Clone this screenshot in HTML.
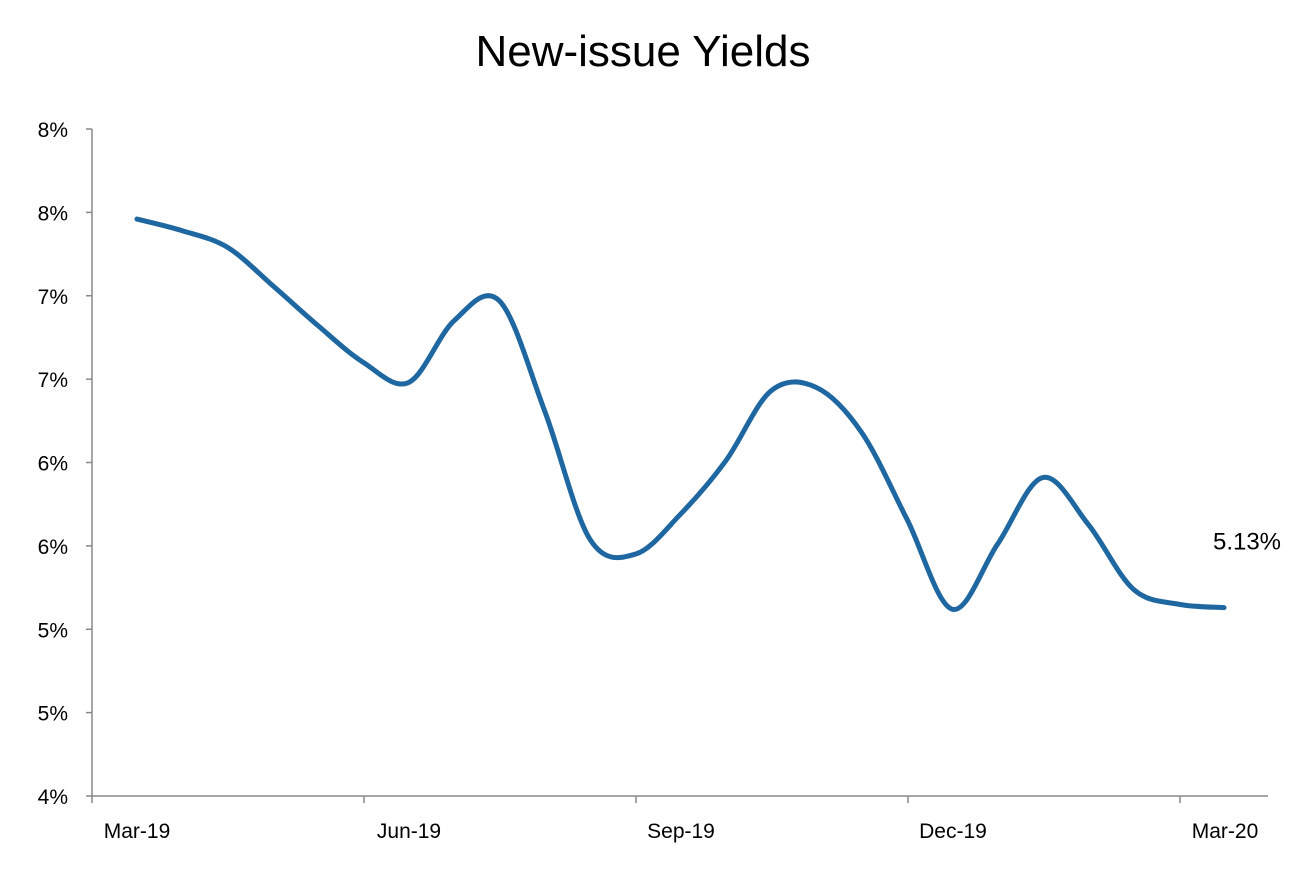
<!DOCTYPE html>
<html><head><meta charset="utf-8"><style>
html,body{margin:0;padding:0;background:#fff;}
svg{display:block;font-family:"Liberation Sans",sans-serif;}
</style></head><body>
<svg id="chart" width="1308" height="872">
<text x="643" y="66" text-anchor="middle" font-size="44" fill="#000">New-issue Yields</text>
<g id="axes"></g>
<path id="line" fill="none" stroke="#1f67a0" stroke-width="5" stroke-linecap="round"></path>
<text id="endLabel" font-size="24" fill="#000" text-anchor="middle"></text>
</svg>
<script>
const yTicks=[4,4.5,5,5.5,6,6.5,7,7.5,8];
const yTickLabels=["4%","5%","5%","6%","6%","7%","7%","8%","8%"];
const xLabels=["Mar-19","Jun-19","Sep-19","Dec-19","Mar-20"];
const values=[7.46,7.39,7.29,7.06,6.82,6.60,6.48,6.85,6.97,6.31,5.54,5.45,5.69,6.01,6.43,6.45,6.18,5.66,5.12,5.51,5.91,5.63,5.24,5.15,5.13];
const endLabel="5.13%";
const NS="http://www.w3.org/2000/svg";
const X0=92,X1=1268,Y0=796,Y1=129;
const yScale=v=>Y0-(v-4)/(8-4)*(Y0-Y1);
const qW=(1180-92)/4;
const xScale=i=>137+i*((1224-137)/(values.length-1));
const axes=document.getElementById('axes');
function mk(tag,attrs){const e=document.createElementNS(NS,tag);for(const k in attrs)e.setAttribute(k,attrs[k]);return e;}
let l=mk('line',{x1:X0,y1:Y1,x2:X0,y2:Y0,stroke:'#888','stroke-width':1.5});


axes.appendChild(l);
l=mk('line',{x1:X0,y1:Y0,x2:X1,y2:Y0,stroke:'#888','stroke-width':1.5});


axes.appendChild(l);
yTicks.forEach((v,i)=>{
  const y=yScale(v);
  const t=mk('line',{x1:X0-6,y1:y,x2:X0,y2:y,stroke:'#888','stroke-width':1.5});
  
  
  axes.appendChild(t);
  const tx=mk('text',{x:68,y:y+8,'text-anchor':'end','font-size':21,fill:'#000'});
  tx.textContent=yTickLabels[i];
  
  
  axes.appendChild(tx);
});
for(let i=0;i<=4;i++){
  const x=X0+i*qW;
  const t=mk('line',{x1:x,y1:Y0,x2:x,y2:Y0+7,stroke:'#888','stroke-width':1.5});
  
  
  axes.appendChild(t);
}
xLabels.forEach((s,i)=>{
  const tx=mk('text',{x:137+i*qW,y:838,'text-anchor':'middle','font-size':21,fill:'#000'});
  tx.textContent=s;
  
  
  axes.appendChild(tx);
});
const pts=values.map((v,i)=>[xScale(i),yScale(v)]);
let d='M'+pts[0][0]+','+pts[0][1];
for(let i=0;i<pts.length-1;i++){
  const p0=pts[Math.max(i-1,0)],p1=pts[i],p2=pts[i+1],p3=pts[Math.min(i+2,pts.length-1)];
  const c1=[p1[0]+(p2[0]-p0[0])/6,p1[1]+(p2[1]-p0[1])/6];
  const c2=[p2[0]-(p3[0]-p1[0])/6,p2[1]-(p3[1]-p1[1])/6];
  d+=` C${c1[0]},${c1[1]} ${c2[0]},${c2[1]} ${p2[0]},${p2[1]}`;
}
document.getElementById('line').setAttribute('d',d);
const el=document.getElementById('endLabel');
const last=pts[pts.length-1];
el.setAttribute('x',last[0]+23);
el.setAttribute('y',last[1]-58);
el.textContent=endLabel;
</script>
</body></html>
